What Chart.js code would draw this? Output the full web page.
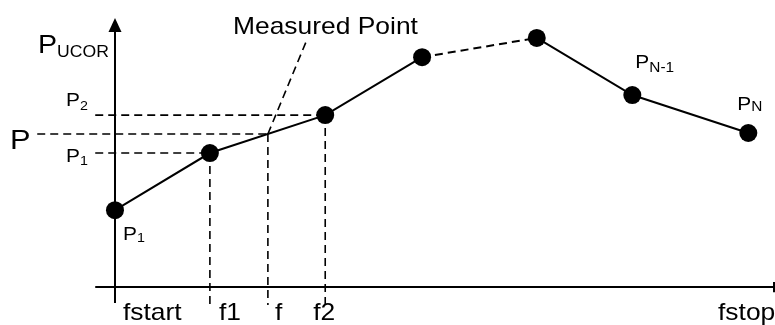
<!DOCTYPE html>
<html>
<head>
<meta charset="utf-8">
<script src="https://cdn.jsdelivr.net/npm/chart.js@4.4.1/dist/chart.umd.min.js"></script>
<style>
  html, body { margin: 0; padding: 0; background: #fff; }
  #wrap { width: 775px; height: 325px; position: relative; }
</style>
</head>
<body>
<div id="wrap"><canvas id="sweep"></canvas></div>
<script>
// Sweep points (frequency units: fstart = 0, fstop = 100; power units: axis = 0)
const sweepF = [0, 14.4, 31.9, 46.6, 64.0, 78.5, 96.1];
const sweepP = [28.8, 50.2, 64.4, 86.1, 93.3, 71.9, 57.7];

// Frequency markers on the x axis
const freqLabels = ['fstart', 'f1', 'f', 'f2', 'fstop'];
const freqValues = [0, 14.4, 23.2, 31.9, 100];

// Power levels read on the y axis: P1, P, P2
const levelLabels = ['P1', 'P', 'P2'];
const levelValues = [50.2, 57.3, 64.4];

// Measured point callout tip
const calloutF = 29.1;
const calloutP = 92.5;

const DASH = [8, 5];
const INK = '#000';

function guide(points, width = 1.6) {
  return {
    data: points.map(([x, y]) => ({ x, y })),
    borderColor: INK,
    borderWidth: width,
    borderDash: DASH,
    pointRadius: 0,
    fill: false,
    tension: 0,
  };
}

function solid(points, width = 2) {
  return {
    data: points.map(([x, y]) => ({ x, y })),
    borderColor: INK,
    borderWidth: width,
    pointRadius: 0,
    fill: false,
    tension: 0,
  };
}

const fM = freqValues[2];
const pM = levelValues[1];
const belowAxis = -6.7;

const datasets = [
  // ── Sweep curve (dashed between 4th and 5th point) ──
  {
    data: sweepF.map((f, i) => ({ x: f, y: sweepP[i] })),
    borderColor: INK,
    borderWidth: 2,
    pointRadius: 9,
    pointHoverRadius: 9,
    pointBackgroundColor: INK,
    pointBorderWidth: 0,
    tension: 0,
    fill: false,
    segment: { borderDash: (ctx) => (ctx.p0DataIndex === 3 ? DASH : undefined) },
  },
  // ── Guide lines ──
  guide([[-3.0, levelValues[2]], [sweepF[2], levelValues[2]]]),
  guide([[-11.8, pM], [fM, pM]]),
  guide([[-3.0, levelValues[0]], [sweepF[1], levelValues[0]]]),
  guide([[sweepF[1], sweepP[1]], [sweepF[1], belowAxis]]),
  guide([[fM, pM], [fM, belowAxis]]),
  guide([[sweepF[2], sweepP[2]], [sweepF[2], belowAxis]]),
  guide([[fM, pM], [calloutF, calloutP]]),
  // ── Axes ──
  solid([[-3.0, 0], [100, 0]]),
  solid([[100, 1.9], [100, -1.9]]),
  solid([[0, -6.0], [0, 95.5]]),
];

// Text in a slightly wide face, as in the original drawing
function text(ctx, str, x, y, size) {
  ctx.save();
  ctx.font = size + 'px "Liberation Sans", Arial, sans-serif';
  ctx.translate(x, y);
  ctx.scale(1.1, 1);
  ctx.fillText(str, 0, 0);
  const w = ctx.measureText(str).width * 1.1;
  ctx.restore();
  return w;
}

function subLabel(ctx, main, sub, x, y, size, subSize, drop) {
  const w = text(ctx, main, x, y, size);
  text(ctx, sub, x + w, y + drop, subSize);
}

const labelsPlugin = {
  id: 'sketchLabels',
  afterDatasetsDraw(chart) {
    const { ctx, scales: { x, y } } = chart;
    ctx.save();
    ctx.fillStyle = INK;
    ctx.textBaseline = 'alphabetic';
    ctx.textAlign = 'left';

    // arrow head on the power axis
    const ax = x.getPixelForValue(0);
    const top = y.getPixelForValue(100) - 2;
    ctx.beginPath();
    ctx.moveTo(ax, top);
    ctx.lineTo(ax - 6.5, top + 14);
    ctx.lineTo(ax + 6.5, top + 14);
    ctx.closePath();
    ctx.fill();

    // axis title
    subLabel(ctx, 'P', 'UCOR', 38, 53, 26, 16, 4);

    // level labels on the left
    const p1y = y.getPixelForValue(levelValues[0]);
    const py = y.getPixelForValue(levelValues[1]);
    const p2y = y.getPixelForValue(levelValues[2]);
    subLabel(ctx, 'P', '2', 66, p2y - 9, 19, 13, 4);
    text(ctx, levelLabels[1], 10, py + 15, 28);
    subLabel(ctx, 'P', '1', 66, p1y + 9, 19, 13, 3);

    // point labels
    const first = { px: x.getPixelForValue(sweepF[0]), py: y.getPixelForValue(sweepP[0]) };
    subLabel(ctx, 'P', '1', first.px + 8, first.py + 30, 19, 13, 2);
    const nm1 = { px: x.getPixelForValue(sweepF[5]), py: y.getPixelForValue(sweepP[5]) };
    subLabel(ctx, 'P', 'N-1', nm1.px + 3, nm1.py - 27, 19, 14, 4);
    const n = { px: x.getPixelForValue(sweepF[6]), py: y.getPixelForValue(sweepP[6]) };
    subLabel(ctx, 'P', 'N', n.px - 11, n.py - 23, 19, 14, 1);

    // callout
    text(ctx, 'Measured Point', 233, 34, 24);

    // frequency labels
    const fy = 320;
    const offsets = [8, 9, 7, -12, -56];
    freqLabels.forEach((lab, i) => {
      text(ctx, lab, x.getPixelForValue(freqValues[i]) + offsets[i], fy, 24);
    });
    ctx.restore();
  }
};

new Chart(document.getElementById('sweep'), {
  type: 'line',
  data: { datasets },
  options: {
    responsive: true,
    maintainAspectRatio: false,
    animation: false,
    layout: { padding: 0, autoPadding: false },
    plugins: { legend: { display: false }, tooltip: { enabled: false } },
    scales: {
      x: { type: 'linear', min: -17.45, max: 100.15, display: false },
      y: { type: 'linear', min: -14.2, max: 107.5, display: false },
    },
  },
  plugins: [labelsPlugin],
});
</script>
</body>
</html>
